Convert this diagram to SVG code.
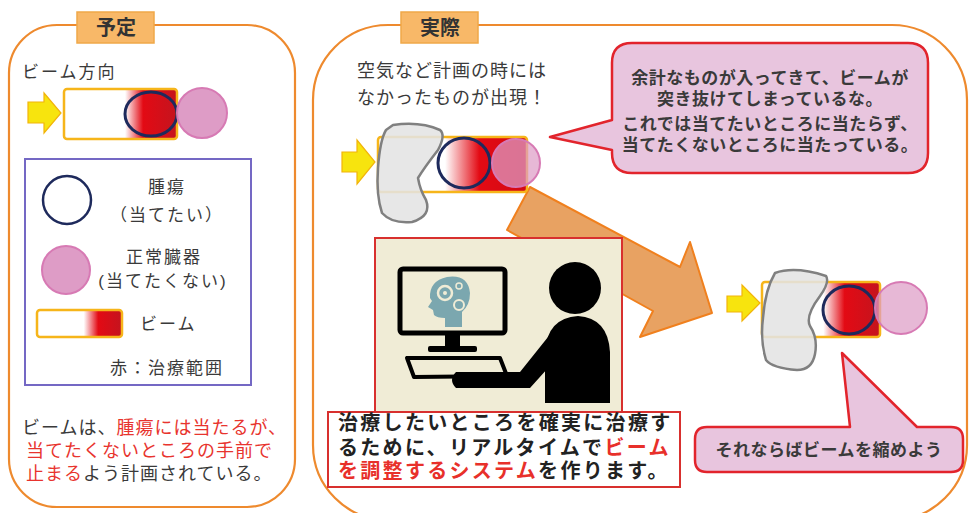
<svg xmlns="http://www.w3.org/2000/svg" width="969" height="513" viewBox="0 0 969 513">
  <style>
    text { font-family: "Liberation Sans", "Noto Sans CJK JP", sans-serif; fill: #3a3a3a; }
    .frame { fill: #ffffff; stroke: #EE8A2E; stroke-width: 2.2; }
    .tab { fill: #F8B868; stroke: #F0A848; stroke-width: 1.5; }
    .tabtxt { font-size: 20px; font-weight: bold; text-anchor: middle; fill: #333; }
    .arrowY { fill: #F7E40E; stroke: #F2B40A; stroke-width: 1.2; }
    .beam { stroke: #F6B51A; stroke-width: 2.5; }
    .tumor { fill: none; stroke: #1E2A5C; stroke-width: 3; }
    .organ { fill: #DE9CC6; stroke: #D77AB4; stroke-width: 2; }
    .organT { fill: #DE9CC6; fill-opacity: 0.72; stroke: #D77AB4; stroke-width: 2; }
    .blob { fill: #E4E4E4; fill-opacity: 0.88; stroke: #808080; stroke-width: 2.5; stroke-linejoin: round; }
    .callout { fill: #E8C5DE; stroke: #E2242C; stroke-width: 2.5; stroke-linejoin: round; }
    .red { fill: #E8342E; }
    .t17 { font-size: 17px; letter-spacing: 2px; }
    .t18 { font-size: 18px; letter-spacing: 1px; }
    .cb { font-size: 17px; font-weight: bold; letter-spacing: 0.5px; text-anchor: middle; fill: #3a3a3a; }
    .box { font-size: 20px; font-weight: bold; letter-spacing: 2.3px; fill: #222; }
  </style>
  <defs>
    <linearGradient id="beamL" x1="0" y1="0" x2="1" y2="0">
      <stop offset="0" stop-color="#ffffff"/>
      <stop offset="0.54" stop-color="#ffffff"/>
      <stop offset="0.70" stop-color="#E30A14"/>
      <stop offset="1" stop-color="#C4141E"/>
    </linearGradient>
    <linearGradient id="beamM" x1="0" y1="0" x2="1" y2="0">
      <stop offset="0" stop-color="#ffffff"/>
      <stop offset="0.45" stop-color="#ffffff"/>
      <stop offset="0.68" stop-color="#E30A14"/>
      <stop offset="1" stop-color="#D20A14"/>
    </linearGradient>
    <linearGradient id="beamR" x1="0" y1="0" x2="1" y2="0">
      <stop offset="0" stop-color="#ffffff"/>
      <stop offset="0.52" stop-color="#ffffff"/>
      <stop offset="0.70" stop-color="#E30A14"/>
      <stop offset="1" stop-color="#C4141E"/>
    </linearGradient>
    <linearGradient id="beamLeg" x1="0" y1="0" x2="1" y2="0">
      <stop offset="0" stop-color="#ffffff"/>
      <stop offset="0.55" stop-color="#ffffff"/>
      <stop offset="0.72" stop-color="#E30A14"/>
      <stop offset="1" stop-color="#C4141E"/>
    </linearGradient>
  </defs>

  <!-- Planned panel -->
  <g id="plan">
    <rect class="frame" x="9" y="25" width="286" height="482" rx="48"/>
    <rect class="tab" x="77" y="12" width="77" height="31"/>
    <text class="tabtxt" x="116" y="35">予定</text>

    <text class="t17" x="22" y="78">ビーム方向</text>
    <polygon class="arrowY" points="28,102 44,102 44,93 61,113 44,133 44,123 28,123"/>
    <rect class="beam" x="64" y="89" width="113" height="50" rx="3" fill="url(#beamL)"/>
    <ellipse class="tumor" cx="151" cy="114" rx="26" ry="22"/>
    <circle class="organ" cx="202" cy="113" r="25"/>

    <g id="legend">
      <rect x="25" y="159" width="226" height="226" fill="#ffffff" stroke="#7468C4" stroke-width="2"/>
      <circle cx="67" cy="200" r="24" fill="#ffffff" stroke="#1E2A5C" stroke-width="2.5"/>
      <text class="t17" x="167" y="193" text-anchor="middle">腫瘍</text>
      <text class="t17" x="167" y="221" text-anchor="middle">（当てたい）</text>
      <circle class="organ" cx="66" cy="270" r="24"/>
      <text class="t17" x="164" y="263" text-anchor="middle">正常臓器</text>
      <text class="t17" x="163" y="287" text-anchor="middle">(当てたくない)</text>
      <rect class="beam" x="37" y="310" width="85" height="27" rx="3" fill="url(#beamLeg)"/>
      <text class="t17" x="140" y="330">ビーム</text>
      <text class="t17" x="110" y="374">赤：治療範囲</text>
    </g>

    <text class="t18" x="22" y="434">ビームは、<tspan class="red">腫瘍には当たるが、</tspan></text>
    <text class="t18 red" x="26" y="457">当てたくないところの手前で</text>
    <text class="t18" x="26" y="480"><tspan class="red">止まる</tspan>よう計画されている。</text>
  </g>

  <!-- Actual panel -->
  <g id="actual">
    <rect class="frame" x="313" y="25" width="654" height="495" rx="75"/>
    <rect class="tab" x="401" y="12" width="77" height="31"/>
    <text class="tabtxt" x="440" y="35">実際</text>

    <text class="t18" x="357" y="77">空気など計画の時には</text>
    <text class="t18" x="357" y="104">なかったものが出現！</text>
  </g>

  <!-- Connector: correction arrow -->
  <g id="connectors">
    <polygon points="530,187 680,267 690,242 712,313 640,337 653,311 507,230" fill="#E8A262" stroke="#F0801E" stroke-width="2" stroke-linejoin="round"/>
  </g>

  <!-- Beam hitting an unexpected obstacle -->
  <g id="beam-actual">
    <polygon class="arrowY" points="342,152 357,152 357,140 375,162 357,184 357,172 342,172"/>
    <rect class="beam" x="378" y="137" width="149" height="55" rx="3" fill="url(#beamM)"/>
    <ellipse class="tumor" cx="464" cy="163" rx="26" ry="25"/>
    <circle class="organT" cx="516" cy="163" r="24"/>
    <path class="blob" d="M393,125 Q420,121 440,130 Q446,135 438,150 Q424,168 418,178 Q420,190 426,200 Q432,216 412,222 Q392,224 382,213 Q376,195 378,168 Q380,140 386,130 Z"/>
  </g>

  <g id="callout-top">
    <path class="callout" d="M632,43 H908 Q928,43 928,63 V153 Q928,173 908,173 H632 Q612,173 612,153 V150 L550,137 L612,120 V63 Q612,43 632,43 Z"/>
    <text class="cb" x="770" y="84">余計なものが入ってきて、ビームが</text>
    <text class="cb" x="770" y="105">突き抜けてしまっているな。</text>
    <text class="cb" x="770" y="130">これでは当てたいところに当たらず、</text>
    <text class="cb" x="770" y="151">当てたくないところに当たっている。</text>
  </g>

  <!-- Operator at a workstation -->
  <g id="system">
    <rect x="375" y="238" width="247" height="174" fill="#F0ECD6" stroke="#D8302E" stroke-width="2"/>
    <rect x="400" y="269" width="105" height="64" rx="3" fill="#F0ECD6" stroke="#000" stroke-width="5"/>
    <rect x="445" y="333" width="15" height="15" fill="#000"/>
    <rect x="428" y="346" width="49" height="6" rx="2" fill="#000"/>
    <polygon points="407,358 500,358 507,376 414,377" fill="#F0ECD6" stroke="#000" stroke-width="4" stroke-linejoin="round"/>
    <path d="M445,327 V318 Q437,318 434,315 L433,310 L428,307 L432,301 L430,298 Q429,281 447,277 Q468,274 470,293 Q470,305 462,312 V327 Z" fill="#7BA7AF"/>
    <circle cx="445" cy="293" r="7" fill="none" stroke="#F0ECD6" stroke-width="2.5"/>
    <circle cx="445" cy="293" r="2" fill="#F0ECD6"/>
    <circle cx="459" cy="305" r="5" fill="none" stroke="#F0ECD6" stroke-width="2"/>
    <circle cx="459" cy="286" r="3" fill="none" stroke="#F0ECD6" stroke-width="1.5"/>
    <circle cx="575" cy="288" r="26" fill="#000"/>
    <path d="M545,403 V352 Q547,318 578,316 Q608,318 610,352 V403 Z" fill="#000"/>
    <path d="M560,322 L520,372 H456 Q448,380 456,388 H530 L575,338 Z" fill="#000"/>
  </g>

  <g id="system-label">
    <rect x="328" y="412" width="352" height="75" fill="#ffffff" stroke="#D8302E" stroke-width="2"/>
    <text class="box" x="338" y="430">治療したいところを確実に治療す</text>
    <text class="box" x="338" y="455">るために、リアルタイムで<tspan fill="#E8302A">ビーム</tspan></text>
    <text class="box" x="338" y="478"><tspan fill="#E8302A">を調整するシステム</tspan>を作ります。</text>
  </g>

  <!-- Adjusted beam -->
  <g id="beam-adjusted">
    <polygon class="arrowY" points="727,296 742,296 742,285 760,303 742,321 742,312 727,312"/>
    <rect class="beam" x="762" y="282" width="118" height="55" rx="3" fill="url(#beamR)"/>
    <ellipse class="tumor" cx="849" cy="310" rx="26" ry="24"/>
    <circle class="organT" cx="901" cy="308" r="26"/>
    <path class="blob" d="M775,273 Q795,266 826,276 Q830,282 820,296 Q805,316 810,326 Q818,338 815,354 Q812,370 797,370 Q772,368 766,360 Q760,340 763,318 Q765,290 775,273 Z"/>
  </g>

  <g id="callout-bottom">
    <path class="callout" d="M707,427 H850 L842,353 L917,427 H951 Q963,427 963,439 V460 Q963,472 951,472 H707 Q695,472 695,460 V439 Q695,427 707,427 Z"/>
    <text class="cb" x="829" y="456">それならばビームを縮めよう</text>
  </g>
</svg>
